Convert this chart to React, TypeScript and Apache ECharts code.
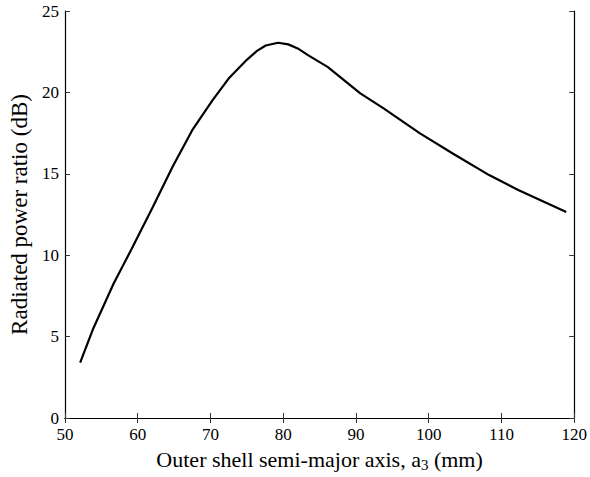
import React, { useEffect, useRef } from "react";
import * as echarts from "echarts";

const xValues = [52.1, 53.9, 56.7, 59.2, 62.1, 64.8, 67.5, 70.3, 72.5, 73.9, 75.0, 76.4, 77.6, 79.3, 80.7, 82.0, 83.4, 86.1, 90.6, 93.8, 98.8, 103.3, 108.3, 112.3, 118.9];
const yValues = [3.4, 5.5, 8.26, 10.41, 12.97, 15.43, 17.68, 19.53, 20.85, 21.5, 22.0, 22.55, 22.88, 23.05, 22.95, 22.7, 22.29, 21.57, 19.94, 19.02, 17.48, 16.25, 14.92, 14.0, 12.66];
const xTicks = { min: 50, max: 120, interval: 10 };
const yTicks = { min: 0, max: 25, interval: 5 };

const font = "Liberation Serif";

export default function App() {
  const ref = useRef<HTMLDivElement>(null);
  useEffect(() => {
    if (!ref.current) return;
    const chart = echarts.init(ref.current, null, { renderer: "svg" });
    const axisLine = { show: true, lineStyle: { color: "#000", width: 1.2 } };
    const tick = { show: true, inside: true, length: 5, lineStyle: { color: "#333", width: 1 } };
    chart.setOption({
      animation: false,
      backgroundColor: "#fff",
      grid: { left: 64, right: 9, top: 11, bottom: 59, containLabel: false },
      xAxis: [
        {
          type: "value",
          ...xTicks,
          position: "bottom",
          axisLine,
          axisTick: tick,
          splitLine: { show: false },
          axisLabel: { color: "#000", fontFamily: font, fontSize: 17, margin: 8 },
          name: "{n|Outer shell semi-major axis, a}{s|3}{n| (mm)}",
          nameLocation: "middle",
          nameGap: 29,
          nameTextStyle: {
            rich: {
              n: { fontFamily: font, fontSize: 22, color: "#000" },
              s: { fontFamily: font, fontSize: 15, color: "#000", verticalAlign: "bottom", padding: [10, 0, 0, 0] },
            },
          },
        },
        {
          type: "value",
          ...xTicks,
          position: "top",
          axisLine,
          axisTick: tick,
          splitLine: { show: false },
          axisLabel: { show: false },
        },
      ],
      yAxis: [
        {
          type: "value",
          ...yTicks,
          position: "left",
          axisLine,
          axisTick: tick,
          splitLine: { show: false },
          axisLabel: { color: "#000", fontFamily: font, fontSize: 17, margin: 6 },
          name: "Radiated power ratio (dB)",
          nameLocation: "middle",
          nameGap: 30,
          nameTextStyle: { fontFamily: font, fontSize: 23, color: "#000" },
        },
        {
          type: "value",
          ...yTicks,
          position: "right",
          axisLine,
          axisTick: tick,
          splitLine: { show: false },
          axisLabel: { show: false },
        },
      ],
      series: [
        {
          type: "line",
          data: xValues.map((x, i) => [x, yValues[i]]),
          showSymbol: false,
          symbol: "none",
          lineStyle: { color: "#000", width: 2.2 },
          xAxisIndex: 0,
          yAxisIndex: 0,
        },
      ],
    });
    return () => chart.dispose();
  }, []);
  return <div ref={ref} style={{ width: 590, height: 477, position: "absolute", left: 0, top: 0 }} />;
}
